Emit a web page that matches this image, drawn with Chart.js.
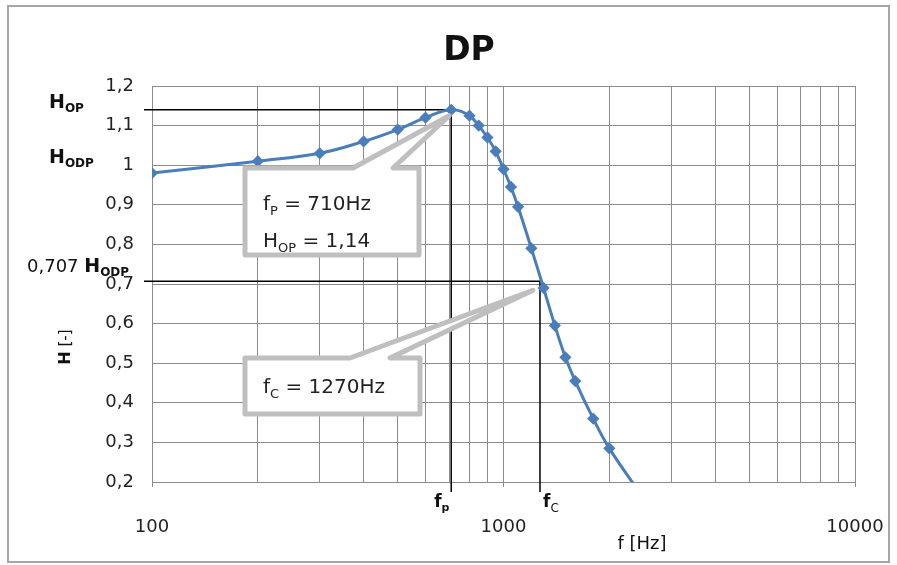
<!DOCTYPE html>
<html>
<head>
<meta charset="utf-8">
<script src="https://cdn.jsdelivr.net/npm/chart.js@4.4.1/dist/chart.umd.min.js"></script>
<style>
    body { margin: 0; background: #fff; }
    #contenedor { width: 897px; height: 565px; }
</style>
</head>
<body>
<div id="contenedor"><canvas id="chartDP" width="897" height="565"></canvas></div>
<script>
// Frecuencias medidas [Hz] y ganancia H [-]
const frecuencias = [100, 200, 300, 400, 500, 600, 710, 800, 850, 900, 950, 1000, 1050, 1100, 1200, 1300, 1400, 1500, 1600, 1800, 2000, 2500];
const valoresH = [0.98, 1.01, 1.03, 1.06, 1.09, 1.12, 1.14, 1.125, 1.10, 1.07, 1.035, 0.99, 0.945, 0.895, 0.79, 0.69, 0.595, 0.515, 0.455, 0.36, 0.285, 0.16];

// Décadas del eje x y rango del eje y
const decadasX = [100, 1000, 10000];
const minY = 0.2;
const maxY = 1.2;

// Puntos característicos
const fP = 710;
const hOP = 1.14;
const fC = 1270;
const hC = 0.707;

const FUENTE = '"DejaVu Sans", sans-serif';
const AZUL = '#4a7ebb';
const GRIS = '#8c8c8c';

// escribe texto con partes en subíndice, devuelve el ancho total
const textoSub = (ctx, partes, x, y) => {
    let pos = x;
    partes.forEach(([texto, fuente, dy]) => {
        ctx.font = fuente;
        ctx.fillText(texto, pos, y + (dy || 0));
        pos += ctx.measureText(texto).width;
    });
    return pos - x;
};

// globo con flecha hacia un punto
const globo = (ctx, caja, base, punta) => {
    ctx.save();
    ctx.beginPath();
    ctx.moveTo(caja.x0, caja.y0);
    ctx.lineTo(base[0], caja.y0);
    ctx.lineTo(punta[0], punta[1]);
    ctx.lineTo(base[1], caja.y0);
    ctx.lineTo(caja.x1, caja.y0);
    ctx.lineTo(caja.x1, caja.y1);
    ctx.lineTo(caja.x0, caja.y1);
    ctx.closePath();
    ctx.fillStyle = '#fff';
    ctx.fill();
    ctx.lineWidth = 5;
    ctx.lineJoin = 'round';
    ctx.strokeStyle = '#bfbfbf';
    ctx.stroke();
    ctx.restore();
};

const anotaciones = {
    id: 'anotaciones',
    beforeDatasetsDraw(chart) {
        const { ctx, scales: { x, y }, chartArea } = chart;
        ctx.save();
        ctx.strokeStyle = '#000';
        ctx.lineWidth = 1.5;
        [[fP, hOP], [fC, hC]].forEach(([f, h]) => {
            const px = x.getPixelForValue(f);
            const py = y.getPixelForValue(h);
            ctx.beginPath();
            ctx.moveTo(chartArea.left - 8, py);
            ctx.lineTo(px, py);
            ctx.lineTo(px, chartArea.bottom + 10);
            ctx.stroke();
        });
        ctx.restore();
    },
    afterDraw(chart) {
        const { ctx, scales: { x, y } } = chart;
        ctx.save();

        // marco exterior
        ctx.strokeStyle = '#a6a6a6';
        ctx.lineWidth = 2;
        ctx.strokeRect(8, 6, 881, 556);

        ctx.fillStyle = '#111';
        ctx.textBaseline = 'alphabetic';

        // título
        ctx.textAlign = 'center';
        ctx.font = `bold 33px ${FUENTE}`;
        ctx.fillText('DP', 469, 60);

        // título eje x
        ctx.font = `18px ${FUENTE}`;
        ctx.fillText('f [Hz]', 642, 549);

        // título eje y (girado)
        ctx.save();
        ctx.translate(70, 347);
        ctx.rotate(-Math.PI / 2);
        ctx.textAlign = 'left';
        ctx.font = `bold 16px ${FUENTE}`;
        const anchoH = ctx.measureText('H').width;
        ctx.font = `15px ${FUENTE}`;
        const anchoResto = ctx.measureText(' [-]').width;
        textoSub(ctx, [['H', `bold 16px ${FUENTE}`], [' [-]', `15px ${FUENTE}`]], -(anchoH + anchoResto) / 2, 0);
        ctx.restore();

        ctx.textAlign = 'left';
        // etiquetas a la izquierda del eje y
        const subB = `bold 12px ${FUENTE}`;
        const hB = `bold 19px ${FUENTE}`;
        textoSub(ctx, [['H', hB], ['OP', subB, 4]], 49, 108);
        textoSub(ctx, [['H', hB], ['ODP', subB, 4]], 49, 163);
        textoSub(ctx, [['0,707 ', `18px ${FUENTE}`], ['H', hB], ['ODP', subB, 4]], 27, 272);

        // fp y fc bajo el eje x
        const pxP = x.getPixelForValue(fP);
        const pxC = x.getPixelForValue(fC);
        textoSub(ctx, [['f', `bold 17px ${FUENTE}`], ['p', `bold 11px ${FUENTE}`, 4]], pxP - 17, 507);
        textoSub(ctx, [['f', `bold 17px ${FUENTE}`], ['C', `12px ${FUENTE}`, 5]], pxC + 3, 507);

        // globos con los valores
        const puntaP = [pxP - 2, y.getPixelForValue(hOP) + 6];
        const puntaC = [pxC - 7, y.getPixelForValue(hC) + 9];
        globo(ctx, { x0: 245, y0: 168, x1: 419, y1: 255 }, [353, 393], puntaP);
        globo(ctx, { x0: 245, y0: 358, x1: 420, y1: 414 }, [350, 390], puntaC);

        ctx.fillStyle = '#222';
        const tGlobo = `20px ${FUENTE}`;
        const sGlobo = `13px ${FUENTE}`;
        textoSub(ctx, [['f', tGlobo], ['P', sGlobo, 5], [' = ' + fP + 'Hz', tGlobo]], 263, 210);
        textoSub(ctx, [['H', tGlobo], ['OP', sGlobo, 5], [' = ' + String(hOP).replace('.', ','), tGlobo]], 263, 247);
        textoSub(ctx, [['f', tGlobo], ['C', sGlobo, 5], [' = ' + fC + 'Hz', tGlobo]], 263, 393);

        ctx.restore();
    }
};

const canvas = document.getElementById('chartDP');
const context = canvas.getContext('2d');

const chartDP = new Chart(context, {
    type: 'line',
    data: {
        datasets: [
            {
                label: 'H',
                data: frecuencias.map((f, i) => ({ x: f, y: valoresH[i] })),
                borderColor: AZUL,
                backgroundColor: AZUL,
                borderWidth: 3,
                pointStyle: 'rectRot',
                pointRadius: 4,
                pointHoverRadius: 4,
                tension: 0.4
            }
        ]
    },
    options: {
        responsive: false,
        animation: false,
        events: [],
        layout: {
            padding: { top: 86, right: 42, left: 0, bottom: 0 }
        },
        plugins: {
            legend: { display: false },
            title: { display: false },
            tooltip: { enabled: false }
        },
        scales: {
            x: {
                type: 'logarithmic',
                min: decadasX[0],
                max: decadasX[decadasX.length - 1],
                afterBuildTicks: (escala) => {
                    const ticks = [];
                    decadasX.forEach((d, i) => {
                        if (i === decadasX.length - 1) {
                            ticks.push({ value: d });
                            return;
                        }
                        for (let m = 1; m < 10; m++) ticks.push({ value: d * m });
                    });
                    escala.ticks = ticks;
                },
                afterFit: (escala) => {
                    escala.height = 83;
                    escala.paddingLeft = 0;
                    escala.paddingRight = 0;
                },
                ticks: {
                    autoSkip: false,
                    maxRotation: 0,
                    padding: 30,
                    color: '#222',
                    font: { family: FUENTE, size: 18 },
                    callback: (valor) => decadasX.includes(valor) ? String(valor) : ''
                },
                grid: {
                    color: GRIS,
                    lineWidth: 1,
                    tickLength: 5,
                    tickColor: (c) => (c.tick && decadasX.includes(c.tick.value)) ? GRIS : 'rgba(0,0,0,0)'
                },
                border: { color: GRIS, width: 1 }
            },
            y: {
                type: 'linear',
                min: minY,
                max: maxY,
                afterFit: (escala) => { escala.width = 152; },
                ticks: {
                    stepSize: 0.1,
                    padding: 18,
                    color: '#222',
                    font: { family: FUENTE, size: 18 },
                    callback: (valor) => String(Number(valor.toFixed(1))).replace('.', ',')
                },
                grid: {
                    color: GRIS,
                    lineWidth: 1,
                    drawTicks: false
                },
                border: { color: GRIS, width: 1 }
            }
        }
    },
    plugins: [anotaciones]
});
</script>
</body>
</html>
